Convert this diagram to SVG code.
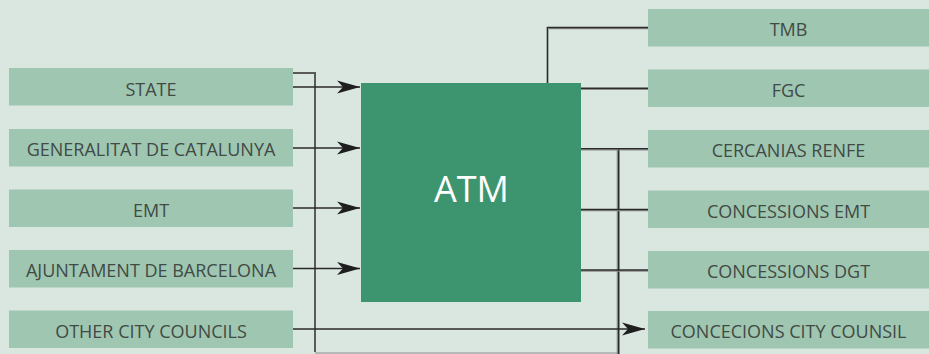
<svg xmlns="http://www.w3.org/2000/svg" width="929" height="354" viewBox="0 0 929 354">
<defs>
<style>
.bg{fill:#d9e7e0}
.box{fill:#9fc6b1}
.lbl{font-family:"Open Sans","Liberation Sans",sans-serif;font-size:18px;fill:#414a45;text-anchor:middle}
.atm{fill:#3d9570}
.atmt{font-family:"Open Sans","Liberation Sans",sans-serif;font-size:36px;fill:#ffffff;text-anchor:middle}
.ln{fill:none;stroke:#2a2a2a;stroke-width:1.6}
.sh{fill:none;stroke:#8c8c8c;stroke-width:1.2}
.gl{fill:none;stroke:#5a5a5a;stroke-width:2}
</style>
<marker id="ah" markerUnits="userSpaceOnUse" markerWidth="26" markerHeight="16" viewBox="-24 -8 26 16" refX="0" refY="0" orient="auto">
<path d="M0,0 L-23,-6.5 L-17,0 L-23,6.5 Z" fill="#1e1e1e"/>
</marker>
</defs>
<rect class="bg" x="0" y="0" width="929" height="354"/>
<g id="connectors">
<path class="gl" d="M293,73 H315 V352"/>
<path class="sh" d="M315,353 H619"/>
<path class="sh" d="M617.3,150 V354"/>
<path class="ln" d="M618.7,149 V354"/>
<path class="ln" d="M293,87 H360" marker-end="url(#ah)"/>
<path class="ln" d="M293,148 H360" marker-end="url(#ah)"/>
<path class="ln" d="M293,208 H360" marker-end="url(#ah)"/>
<path class="ln" d="M293,268.5 H360" marker-end="url(#ah)"/>
<path class="ln" d="M293,329 H645" marker-end="url(#ah)"/>
<path class="sh" d="M581,89.5 H648 M581,150 H648 M581,210.7 H648 M581,271.2 H648 M549,28.7 H648"/>
<path class="ln" d="M547.5,83 V27.5 H648"/>
<path class="ln" d="M581,88.3 H648"/>
<path class="ln" d="M581,148.8 H648"/>
<path class="ln" d="M581,209.5 H648"/>
<path class="ln" d="M581,270 H648"/>
</g>
<g id="state"><rect class="box" x="9" y="68" width="284" height="37.5"/><text class="lbl" x="151" y="95.5">STATE</text></g>
<g id="generalitat"><rect class="box" x="9" y="129" width="284" height="37.5"/><text class="lbl" x="151" y="156">GENERALITAT DE CATALUNYA</text></g>
<g id="emt"><rect class="box" x="9" y="189.5" width="284" height="37.5"/><text class="lbl" x="151" y="216.5">EMT</text></g>
<g id="ajuntament"><rect class="box" x="9" y="250" width="284" height="37.5"/><text class="lbl" x="151" y="277">AJUNTAMENT DE BARCELONA</text></g>
<g id="other"><rect class="box" x="9" y="310.5" width="284" height="37.5"/><text class="lbl" x="151" y="337.5">OTHER CITY COUNCILS</text></g>
<g id="atm"><rect class="atm" x="361" y="83" width="220" height="219"/><text class="atmt" x="471.5" y="201.5">ATM</text></g>
<g id="tmb"><rect class="box" x="648" y="9" width="281" height="37.5"/><text class="lbl" x="788.5" y="36">TMB</text></g>
<g id="fgc"><rect class="box" x="648" y="69.5" width="281" height="37.5"/><text class="lbl" x="788.5" y="96.5">FGC</text></g>
<g id="cercanias"><rect class="box" x="648" y="130" width="281" height="37.5"/><text class="lbl" x="788.5" y="157">CERCANIAS RENFE</text></g>
<g id="concessions-emt"><rect class="box" x="648" y="190.5" width="281" height="37.5"/><text class="lbl" x="788.5" y="217.5">CONCESSIONS EMT</text></g>
<g id="concessions-dgt"><rect class="box" x="648" y="251" width="281" height="37.5"/><text class="lbl" x="788.5" y="278">CONCESSIONS DGT</text></g>
<g id="concecions"><rect class="box" x="648" y="311" width="281" height="37.5"/><text class="lbl" x="788.5" y="338">CONCECIONS CITY COUNSIL</text></g>
</svg>
